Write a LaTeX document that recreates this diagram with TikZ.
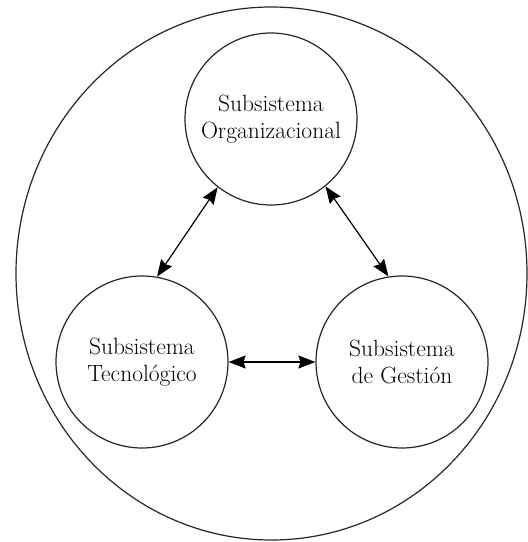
\documentclass[tikz,border=0pt]{standalone}
\usetikzlibrary{arrows.meta}
\begin{document}
\begin{tikzpicture}[x=1pt,y=-1pt,
  sub/.style={draw=black!85,line width=1.2pt,circle,minimum size=172pt,inner sep=0pt,align=center,
    font=\fontsize{23.5}{27}\selectfont},
  conn/.style={line width=1.2pt,{Stealth[length=17pt,width=13pt,inset=2pt]}-{Stealth[length=17pt,width=13pt,inset=2pt]}}]
\useasboundingbox (0,0) rectangle (528,542);
\draw[black!85,line width=1.2pt] (271.5,273.5) ellipse [x radius=255.5, y radius=266.5];
\node[sub] (org) at (271,119) {Subsistema\\Organizacional};
\node[sub] (tec) at (142,362) {Subsistema\\Tecnológico};
\node[sub] (ges) at (402,362) {Subsistema\\de Gestión};
\draw[conn] (org.232) -- (tec.80);
\draw[conn] (org.309) -- (ges.99);
\draw[conn] (tec.east) -- (ges.west);
\end{tikzpicture}
\end{document}
